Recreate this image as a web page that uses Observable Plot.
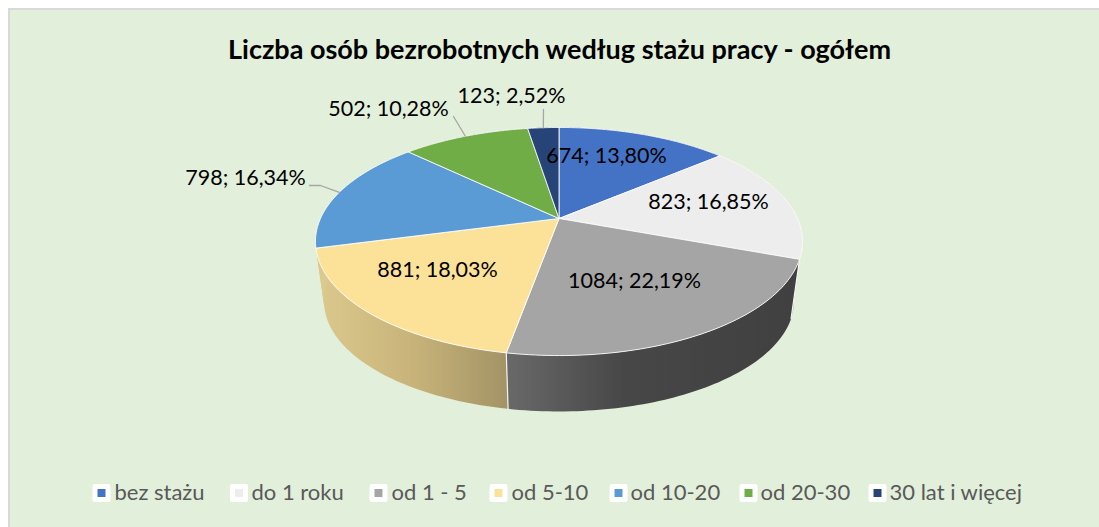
<!DOCTYPE html>
<html><head><meta charset="utf-8">
<script src="https://cdn.jsdelivr.net/npm/d3@7"></script>
<script src="https://cdn.jsdelivr.net/npm/@observablehq/plot@0.6"></script>
<style>html,body{margin:0;padding:0;background:#fff;overflow:hidden}svg{display:block}</style>
</head><body><div id="c"></div>
<script>
const title = "Liczba osób bezrobotnych według stażu pracy - ogółem";
const categories = ["bez stażu","do 1 roku","od 1 - 5","od 5-10","od 10-20","od 20-30","30 lat i więcej"];
const values = [674,823,1084,881,798,502,123];
const shares = ["13,80%","16,85%","22,19%","18,03%","16,34%","10,28%","2,52%"];
const colors = ["#4472C4","#EDEDED","#A5A5A5","#FCE299","#5B9BD5","#70AD47","#264478"];
const wallFills = ["#3a62a8","url(#w1)","url(#w2)","url(#w3)","#dcc98d","#55863a","#1c3359"];

// Layout (pixels of the 1099x527 frame)
const W=1099,H=527, cx=558.5, cy=218, R=238.5, C=109.4, K=0.2018, S=0.965, D=60.7;
const labelPos = [[606,156],[708,202],[634,281],[437,270],[245,178],[388,109],[511,96]];
const leaderVia = [null,null,null,null,[[320,185],[309,185]],[[453,116]],[[543,109]]];
const legendSwatch = [101,238.5,378,498,618,748,877], legendText = [114,251,391,511,630,760,889], legendY = 492.5;

const U = px => (px-cx)/R, V = py => (py-cy)/C;
const total = d3.sum(values);
const cum = d3.cumsum(values);
const ang = i => (i<0?0:cum[i]/total)*2*Math.PI;
const proj = (a,r=1) => { const X=r*Math.sin(a), Y=-r*Math.cos(a), q=1-K*Y; return {u:X/q, v:Y/q}; };
const base = a => { const p=proj(a); return {u:S*p.u, v:S*p.v + D/C}; };
const arc = (a0,a1) => { const n=Math.max(2,Math.ceil((a1-a0)/0.02)); return d3.range(n+1).map(i=>a0+(a1-a0)*i/n); };

const tops = values.map((_,i)=>{ const a=arc(ang(i-1),ang(i)); return [{u:0,v:0},...a.map(t=>proj(t)),{u:0,v:0}]; });
const walls = values.map((_,i)=>{ const a=arc(ang(i-1),ang(i)); const p=[...a.map(t=>proj(t)),...a.slice().reverse().map(base)]; return [...p,p[0]]; });
const seams = values.map((_,i)=>ang(i)).filter(a=>-Math.cos(a)>0.3).map(a=>[proj(a),base(a)]);
const leaders = values.map((_,i)=>{ if(!leaderVia[i]) return null; const m=(ang(i-1)+ang(i))/2; return [proj(m),...leaderVia[i].map(([x,y])=>({u:U(x),v:V(y)}))]; }).filter(Boolean);
const labelRows = values.map((v,i)=>({t:`${v}; ${shares[i]}`,u:U(labelPos[i][0]),v:V(labelPos[i][1])}));
const legendRows = categories.map((t,i)=>({t,c:colors[i],s:U(legendSwatch[i]),x:U(legendText[i]),v:V(legendY)}));
const xy={x:"u",y:"v"};
const font="Lato, Carlito, Calibri, sans-serif";

const chart = Plot.plot({
  width:W,height:H,margin:0,
  style:{background:"#fff",fontFamily:font},
  x:{domain:[U(0),U(W)],range:[0,W],axis:null},
  y:{domain:[V(0),V(H)],range:[0,H],axis:null},
  marks:[
    Plot.rect([0],{x1:U(9),x2:U(1110),y1:V(9),y2:V(540),fill:"#E2EFDA",stroke:"#D9D9D9",strokeWidth:2}),
    ...walls.map((w,i)=>Plot.line(w,{...xy,fill:wallFills[i],stroke:"none"})),
    ...seams.map(s=>Plot.line(s,{...xy,stroke:"#f4f4f4",strokeWidth:1.2})),
    ...tops.map((w,i)=>Plot.line(w,{...xy,fill:colors[i],stroke:"#fff",strokeWidth:1,strokeOpacity:.85,strokeLinejoin:"round"})),
    ...leaders.map(l=>Plot.line(l,{...xy,stroke:"#A6A6A6",strokeWidth:1.3})),
    Plot.text(labelRows,{x:"u",y:"v",text:"t",fontSize:21.5,fill:"#000",textAnchor:"middle",lineAnchor:"middle"}),
    Plot.text([title],{x:U(559),y:V(50),text:d=>d,fontSize:27,fontWeight:"bold",fill:"#000",textAnchor:"middle",lineAnchor:"middle"}),
    Plot.dot(legendRows,{x:"s",y:"v",symbol:"square",r:7.9,fill:"#fff",stroke:"#fff",strokeWidth:4,strokeLinejoin:"round"}),
    Plot.dot(legendRows,{x:"s",y:"v",symbol:"square",r:4.5,fill:d=>d.c,stroke:"none"}),
    Plot.text(legendRows,{x:"x",y:"v",text:"t",fontSize:22,fill:"#595959",textAnchor:"start",lineAnchor:"middle"})
  ],
  color:{type:"identity"}
});
chart.insertAdjacentHTML("afterbegin",`<defs>
<linearGradient id="w1" x1="0" x2="1" y1="0" y2="0"><stop offset="0" stop-color="#8f8f8f"/><stop offset="1" stop-color="#b4b4b4"/></linearGradient>
<linearGradient id="w2" x1="0" x2="1" y1="0" y2="0"><stop offset="0" stop-color="#696969"/><stop offset=".4" stop-color="#474747"/><stop offset="1" stop-color="#404040"/></linearGradient>
<linearGradient id="w3" x1="0" x2="1" y1="0" y2="0"><stop offset="0" stop-color="#dcc98d"/><stop offset=".5" stop-color="#c8b47a"/><stop offset="1" stop-color="#a39365"/></linearGradient>
</defs>`);
document.getElementById("c").append(chart);
</script></body></html>
